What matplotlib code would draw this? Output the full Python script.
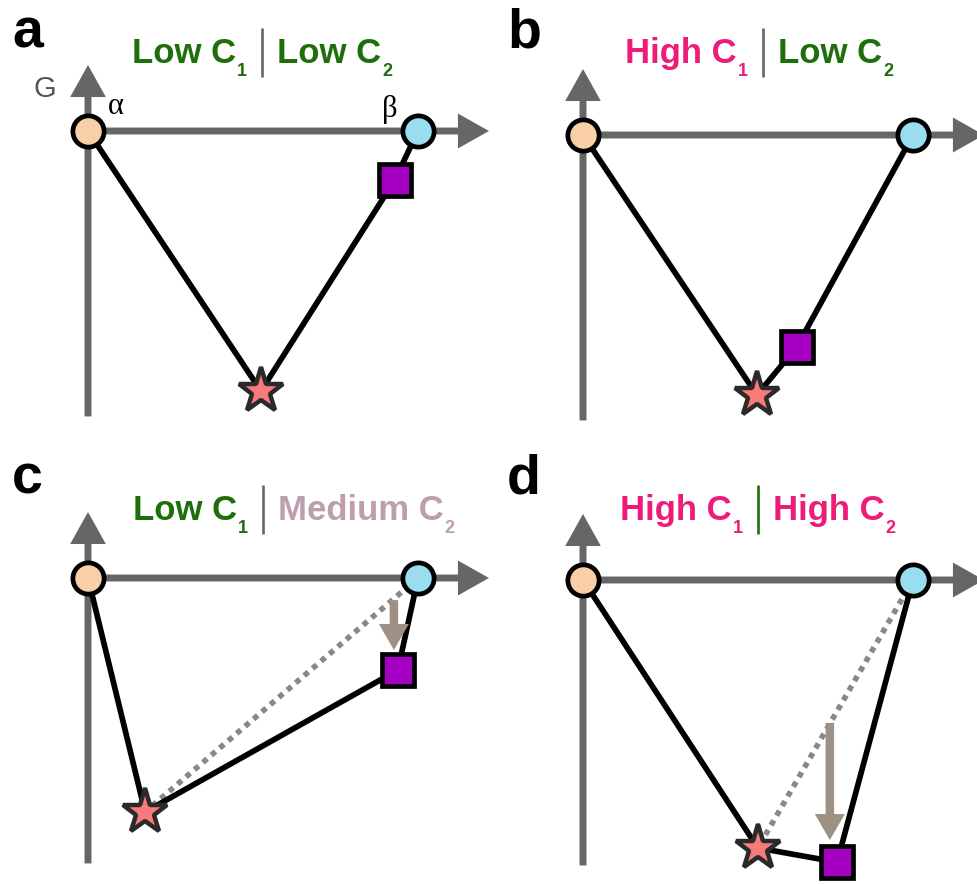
import matplotlib
matplotlib.use('Agg')
import matplotlib.pyplot as plt

W, H = 977, 884
fig = plt.figure(figsize=(W / 100, H / 100), dpi=100)

# ---------------- data ----------------
panel_labels = ['a', 'b', 'c', 'd']
c1_level = ['Low', 'High', 'Low', 'High']
c2_level = ['Low', 'Low', 'Medium', 'High']
alpha_x, alpha_G = 0.0, 0.0
beta_x, beta_G = 1.0, 0.0
star_x = [0.524, 0.527, 0.173, 0.530]
star_G = [-0.788, -0.788, -0.709, -0.812]
square_x = [0.930, 0.648, 0.939, 0.770]
square_G = [-0.148, -0.642, -0.279, -0.855]
shift_x = [None, None, 0.927, 0.748]
shift_from_G = [None, None, -0.067, -0.433]
shift_to_G = [None, None, -0.218, -0.788]
show_reference = [False, False, True, True]

# ---------------- styles ----------------
level_color = {'Low': '#1E6E0C', 'High': '#EC1C78', 'Medium': '#BE9EAE'}
sep_color = ['#666666', '#666666', '#666666', '#1E6E0C']
AX_GRAY = '#666666'
SCALE = 330.0
quads = [(0, 0, 488, 442), (488, 0, 489, 442), (0, 442, 488, 442), (488, 442, 489, 442)]
origins = [(88, 131), (583, 135), (88, 578), (583, 580)]
title_sep = [(262, 63), (763, 63), (263, 520), (758, 520)]
label_pos = [(12, 47), (507, 47), (12, 493), (507, 493)]

FONT = 'Liberation Sans'

axes = []
for i in range(4):
    x0, y0, w, h = quads[i]
    ox, oy = origins[i]
    ax = fig.add_axes([x0 / W, 1 - (y0 + h) / H, w / W, h / H])
    ax.set_xlim((x0 - ox) / SCALE, (x0 + w - ox) / SCALE)
    ax.set_ylim((oy - (y0 + h)) / SCALE, (oy - y0) / SCALE)
    ax.axis('off')
    # axes arrows
    ax.arrow(0, -0.865, 0, 0.2 + 0.865, width=0.021, head_width=0.108,
             head_length=0.097, length_includes_head=True, fc=AX_GRAY,
             ec='none', clip_on=False, zorder=1)
    ax.arrow(0, 0, 1.215, 0, width=0.021, head_width=0.106,
             head_length=0.094, length_includes_head=True, fc=AX_GRAY,
             ec='none', clip_on=False, zorder=1)
    if show_reference[i]:
        ax.plot([beta_x, star_x[i]], [beta_G, star_G[i]], color='#888888',
                lw=4.0, ls=(0, (1, 1)), dash_capstyle='butt', zorder=2)
    ax.plot([alpha_x, star_x[i], square_x[i], beta_x],
            [alpha_G, star_G[i], square_G[i], beta_G], color='black',
            lw=4.1, solid_joinstyle='round', zorder=3)
    if shift_x[i] is not None:
        ax.arrow(shift_x[i], shift_from_G[i], 0, shift_to_G[i] - shift_from_G[i],
                 width=8.5 / SCALE, head_width=30 / SCALE, head_length=26 / SCALE,
                 length_includes_head=True, fc='#9E9083', ec='none', zorder=4)
    ax.plot([alpha_x], [alpha_G], 'o', ms=22.5, mfc='#F8CFA6', mec='black', mew=3.4, zorder=5, clip_on=False)
    ax.plot([beta_x], [beta_G], 'o', ms=22.5, mfc='#98DEF0', mec='black', mew=3.4, zorder=5, clip_on=False)
    ax.plot([square_x[i]], [square_G[i]], 's', ms=23, mfc='#A600C2', mec='black', mew=3.4, zorder=5, clip_on=False)
    ax.plot([star_x[i]], [star_G[i]], '*', ms=34, mfc='#F87A7A', mec='#2A2A2A', mew=3.2, zorder=5, clip_on=False)
    axes.append(ax)

# overlay for text
ov = fig.add_axes([0, 0, 1, 1])
ov.set_xlim(0, W)
ov.set_ylim(H, 0)
ov.axis('off')
ov.patch.set_alpha(0)

renderer = fig.canvas.get_renderer()

def width_px(t):
    bb = t.get_window_extent(renderer=renderer)
    return bb.width

MAIN = 25
SUB = 13
SUB_DROP = 13
GAP = 15

for i in range(4):
    sx, by = title_sep[i]
    # separator
    ov.plot([sx, sx], [by - 35, by + 14], color=sep_color[i], lw=1.9, solid_capstyle='butt')
    # left part: "<c1> C" + sub "1"
    col = level_color[c1_level[i]]
    t_sub = ov.text(sx - GAP, by + SUB_DROP, '1', fontsize=SUB, fontweight='bold',
                    family=FONT, color=col, ha='right', va='baseline')
    wsub = width_px(t_sub)
    ov.text(sx - GAP - wsub - 1, by, c1_level[i] + ' C', fontsize=MAIN, fontweight='bold',
            family=FONT, color=col, ha='right', va='baseline')
    # right part
    col = level_color[c2_level[i]]
    t_main = ov.text(sx + GAP, by, c2_level[i] + ' C', fontsize=MAIN, fontweight='bold',
                     family=FONT, color=col, ha='left', va='baseline')
    wm = width_px(t_main)
    ov.text(sx + GAP + wm + 1, by + SUB_DROP, '2', fontsize=SUB, fontweight='bold',
            family=FONT, color=col, ha='left', va='baseline')
    # panel label
    lx, ly = label_pos[i]
    ov.text(lx, ly, panel_labels[i], fontsize=40, fontweight='bold', family=FONT,
            color='black', ha='left', va='baseline')

# axis annotations in panel a
axes[0].text(-43 / SCALE, 42 / SCALE, 'G', fontsize=21, family=FONT, color='#555555',
             ha='center', va='center')
axes[0].text(28 / SCALE, 24 / SCALE, 'α', fontsize=22, family='Liberation Serif',
             color='black', ha='center', va='center')
axes[0].text(302 / SCALE, 22 / SCALE, 'β', fontsize=22, family='Liberation Serif',
             color='black', ha='center', va='center')

fig.savefig('out.png', dpi=100)
